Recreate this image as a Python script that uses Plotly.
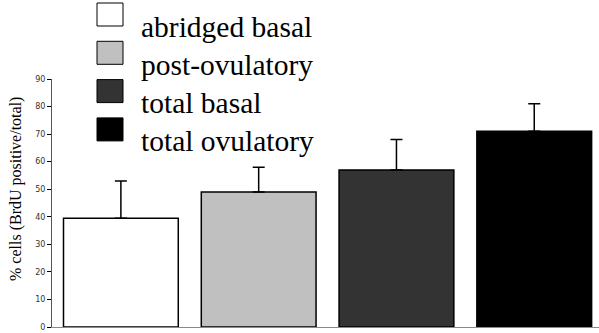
import plotly.graph_objects as go

categories = ["abridged basal", "post-ovulatory", "total basal", "total ovulatory"]
means = [39.5, 49, 57, 71]
sem_plus = [13.5, 9, 11, 10]
colors = ["#ffffff", "#c0c0c0", "#333333", "#000000"]
y_ticks = [0, 10, 20, 30, 40, 50, 60, 70, 80, 90]

W, H = 599, 333
L, R, T, B = 52, 0, 79, 6
pw, ph = W - L - R, H - T - B

def px(x):
    return (x - L) / pw

def py(y):
    return (H - B - y) / ph

fig = go.Figure()
fig.add_trace(go.Bar(
    x=list(range(len(categories))),
    y=means,
    marker=dict(color=colors, line=dict(color="black", width=1.5)),
    error_y=dict(type="data", symmetric=False, array=sem_plus,
                 arrayminus=[0] * len(means), color="black",
                 thickness=1.5, width=6),
    width=0.833,
    showlegend=False,
))

shapes = []
annotations = []
for i, (name, c) in enumerate(zip(categories, colors)):
    top = 3 + 38.3 * i
    shapes.append(dict(type="rect", xref="paper", yref="paper",
                       x0=px(97), x1=px(123), y0=py(top + 23), y1=py(top),
                       fillcolor=c, line=dict(color="black", width=1)))
    annotations.append(dict(text=name, xref="paper", yref="paper",
                            x=px(139), y=py(top + 23.5), xanchor="left",
                            yanchor="middle", showarrow=False,
                            font=dict(family="Liberation Serif", size=29.5,
                                      color="black")))

annotations.append(dict(text="% cells (BrdU positive/total)", xref="paper",
                        yref="paper", x=px(16), y=py(189), xanchor="center",
                        yanchor="middle", textangle=-90, showarrow=False,
                        font=dict(family="Liberation Serif", size=16,
                                  color="black")))

fig.update_layout(
    width=W, height=H,
    margin=dict(l=L, r=R, t=T, b=B, pad=0),
    plot_bgcolor="white", paper_bgcolor="white",
    shapes=shapes, annotations=annotations,
    xaxis=dict(range=[-0.5, 3.47], showticklabels=False, ticks="",
               showgrid=False, zeroline=False, showline=True,
               linecolor="#8a8a8a", linewidth=1),
    yaxis=dict(range=[0, 90], tickvals=y_ticks, ticks="outside", ticklen=4,
               tickcolor="black", showgrid=False, zeroline=False,
               showline=True, linecolor="#555555", linewidth=1,
               tickfont=dict(family="DejaVu Sans", size=8, color="#333333")),
)

fig.write_html("out.html", config={"displayModeBar": False},
               post_script="document.body.style.margin='0';document.body.style.overflow='hidden';")
